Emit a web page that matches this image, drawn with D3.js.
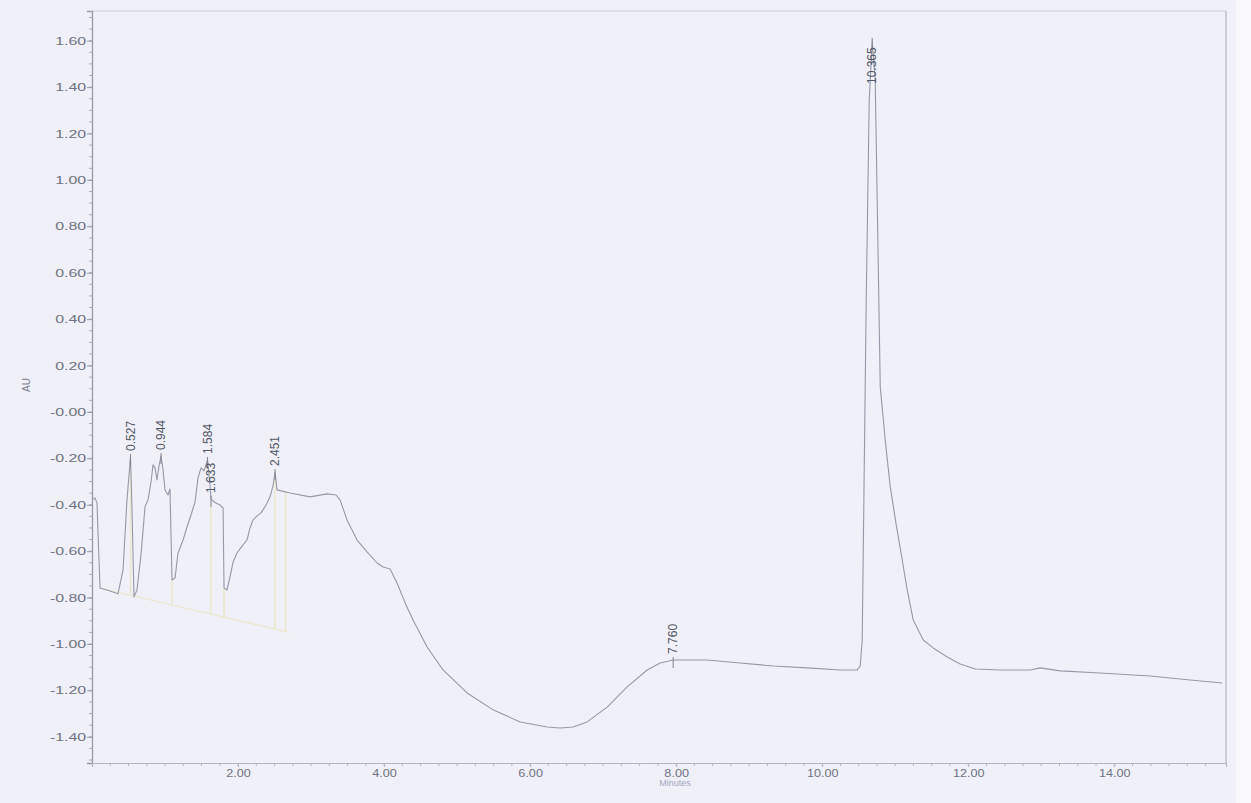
<!DOCTYPE html>
<html>
<head>
<meta charset="utf-8">
<script src="https://cdn.jsdelivr.net/npm/d3@7"></script>
<style>
  body { margin: 0; background: #eff0f8; }
  svg { display: block; }
</style>
</head>
<body>
<svg id="chart" width="1251" height="803"></svg>
<script>
// chromatogram trace (minutes, AU)
const times = [0.00, 0.041, 0.068, 0.096, 0.11, 0.247, 0.356, 0.425, 0.479, 0.527, 0.548, 0.575,
  0.616, 0.671, 0.726, 0.767, 0.808, 0.836, 0.863, 0.890, 0.918, 0.945, 0.973, 1.0, 1.041, 1.068,
  1.096, 1.137, 1.178, 1.247, 1.301, 1.356, 1.411, 1.452, 1.493, 1.534, 1.582, 1.610, 1.630, 1.671,
  1.753, 1.795, 1.808, 1.849, 1.890, 1.932, 1.986, 2.055, 2.123, 2.164, 2.205, 2.260, 2.315, 2.384,
  2.438, 2.479, 2.507, 2.534, 2.712, 2.986, 3.219, 3.342, 3.397, 3.493, 3.630, 3.767, 3.904, 3.986,
  4.082, 4.178, 4.288, 4.397, 4.589, 4.808, 5.137, 5.493, 5.863, 6.233, 6.411, 6.589, 6.781, 7.055,
  7.329, 7.603, 7.781, 7.959, 8.425, 8.877, 9.329, 9.795, 10.247, 10.479, 10.521, 10.548, 10.562,
  10.603, 10.644, 10.685, 10.726, 10.753, 10.795, 10.863, 10.932, 11.014, 11.096, 11.164, 11.247,
  11.384, 11.521, 11.712, 11.890, 12.096, 12.438, 12.849, 12.986, 13.260, 13.808, 14.493, 15.041, 15.479];
const absorbance = [-0.379, -0.371, -0.392, -0.638, -0.759, -0.772, -0.784, -0.681, -0.379, -0.194, -0.422, -0.797,
  -0.767, -0.616, -0.409, -0.379, -0.302, -0.228, -0.241, -0.293, -0.233, -0.190, -0.250, -0.336, -0.358, -0.332,
  -0.724, -0.716, -0.608, -0.552, -0.496, -0.444, -0.388, -0.284, -0.241, -0.254, -0.207, -0.293, -0.375, -0.388,
  -0.401, -0.414, -0.759, -0.767, -0.711, -0.647, -0.608, -0.578, -0.552, -0.500, -0.466, -0.448, -0.435, -0.401,
  -0.366, -0.319, -0.259, -0.336, -0.349, -0.366, -0.353, -0.358, -0.379, -0.466, -0.552, -0.603, -0.651, -0.668,
  -0.677, -0.737, -0.823, -0.897, -1.013, -1.112, -1.211, -1.284, -1.336, -1.358, -1.362, -1.358, -1.336, -1.272,
  -1.185, -1.112, -1.082, -1.069, -1.069, -1.082, -1.095, -1.103, -1.112, -1.112, -1.095, -0.983, -0.608,
  0.483, 1.345, 1.599, 1.431, 0.914, 0.108, -0.121, -0.323, -0.487, -0.638, -0.767, -0.897,
  -0.983, -1.017, -1.056, -1.086, -1.108, -1.112, -1.112, -1.103, -1.116, -1.125, -1.138, -1.155, -1.168];

// labelled peaks (retention time text, apex position on the plot)
const peakNames = ["0.527", "0.944", "1.584", "1.633", "2.451", "7.760", "10.365"];
const peakTimes = [0.527, 0.945, 1.582, 1.630, 2.507, 7.959, 10.685];
const peakHeights = [-0.194, -0.190, -0.207, -0.375, -0.259, -1.069, 1.599];

// integration baseline and drop lines (pale yellow)
const baselineTimes = [0.11, 2.70];
const baselineValues = [-0.76, -0.95];
const dropTimes = [0.356, 0.527, 1.096, 1.630, 1.808, 2.507, 2.650];

const yTickValues = [1.6, 1.4, 1.2, 1.0, 0.8, 0.6, 0.4, 0.2, 0, -0.2, -0.4, -0.6, -0.8, -1.0, -1.2, -1.4];
const yTickLabels = ["1.60", "1.40", "1.20", "1.00", "0.80", "0.60", "0.40", "0.20", "-0.00",
  "-0.20", "-0.40", "-0.60", "-0.80", "-1.00", "-1.20", "-1.40"];
const xTickValues = [2, 4, 6, 8, 10, 12, 14];
const xTickLabels = ["2.00", "4.00", "6.00", "8.00", "10.00", "12.00", "14.00"];

const svg = d3.select("#chart");
const font = "'Liberation Sans', Arial, sans-serif";

const x = d3.scaleLinear().domain([0, 15.53]).range([92, 1226]);
const y = d3.scaleLinear().domain([-1.513, 1.728]).range([763, 11]);

// paper edge on the right
svg.append("rect").attr("x", 1236).attr("y", 0).attr("width", 15).attr("height", 803).attr("fill", "#f9f9fc");

// frame
svg.append("line").attr("x1", 92).attr("x2", 1226).attr("y1", 11).attr("y2", 11)
  .attr("stroke", "#cdcfd9").attr("stroke-width", 1);
svg.append("line").attr("x1", 1226).attr("x2", 1226).attr("y1", 11).attr("y2", 763)
  .attr("stroke", "#b3b5c0").attr("stroke-width", 1.2);

// minor ticks
const yMinor = d3.range(-1.5, 1.73, 0.05);
svg.append("g").selectAll("line").data(yMinor).join("line")
  .attr("x1", 89).attr("x2", 92)
  .attr("y1", d => y(d)).attr("y2", d => y(d))
  .attr("stroke", "#a9abb6");
const xMinor = d3.range(0.25, 15.5, 0.25);
svg.append("g").selectAll("line").data(xMinor).join("line")
  .attr("x1", d => x(d)).attr("x2", d => x(d))
  .attr("y1", 763).attr("y2", 766)
  .attr("stroke", "#b3b5c0");

// y axis
const yAxis = d3.axisLeft(y)
  .tickValues(yTickValues)
  .tickFormat((d, i) => yTickLabels[i])
  .tickSize(5);
const gy = svg.append("g").attr("transform", "translate(92,0)").call(yAxis);
gy.select(".domain").attr("stroke", "#999ca8").attr("stroke-width", 1.3);
gy.selectAll(".tick line").attr("stroke", "#999ca8");
gy.selectAll(".tick text")
  .attr("x", -4)
  .attr("transform", "scale(1.45,1)")
  .attr("fill", "#707383")
  .style("font-family", font)
  .style("font-size", "11px");

// x axis
const xAxis = d3.axisBottom(x)
  .tickValues(xTickValues)
  .tickFormat((d, i) => xTickLabels[i])
  .tickSize(4)
  .tickPadding(3);
const gx = svg.append("g").attr("transform", "translate(0,763)").call(xAxis);
gx.select(".domain").attr("stroke", "#b3b5c0").attr("stroke-width", 1.1);
gx.selectAll(".tick line").attr("stroke", "#b3b5c0");
gx.selectAll(".tick text")
  .attr("x", 0)
  .attr("y", 6)
  .attr("transform", "scale(1.15,1)")
  .attr("fill", "#707383")
  .style("font-family", font)
  .style("font-size", "11px");

// axis titles
svg.append("text")
  .attr("transform", "translate(30,385) rotate(-90)")
  .attr("text-anchor", "middle")
  .attr("fill", "#7d8090")
  .style("font-family", font)
  .style("font-size", "10px")
  .text("AU");
svg.append("text")
  .attr("x", 675).attr("y", 786)
  .attr("text-anchor", "middle")
  .attr("fill", "#a3a8c0")
  .style("font-family", font)
  .style("font-size", "9px")
  .text("Minutes");

// baseline + drop lines
const baseAt = t => baselineValues[0] + (baselineValues[1] - baselineValues[0]) *
  (t - baselineTimes[0]) / (baselineTimes[1] - baselineTimes[0]);
const traceAt = t => {
  const i = d3.bisectLeft(times, t);
  if (i <= 0) return absorbance[0];
  const t0 = times[i - 1], t1 = times[i];
  return absorbance[i - 1] + (absorbance[i] - absorbance[i - 1]) * (t - t0) / (t1 - t0);
};
svg.append("line")
  .attr("x1", x(baselineTimes[0])).attr("y1", y(baselineValues[0]))
  .attr("x2", x(baselineTimes[1])).attr("y2", y(baselineValues[1]))
  .attr("stroke", "#ede8cc").attr("stroke-width", 1.2);
svg.append("g").selectAll("line").data(dropTimes).join("line")
  .attr("x1", d => x(d)).attr("x2", d => x(d))
  .attr("y1", d => y(traceAt(d))).attr("y2", d => y(baseAt(d)))
  .attr("stroke", "#ede8cc").attr("stroke-width", 1.5);

// trace
const points = times.map((t, i) => [t, absorbance[i]]);
const line = d3.line().x(d => x(d[0])).y(d => y(d[1]));
svg.append("path")
  .datum(points)
  .attr("d", line)
  .attr("fill", "none")
  .attr("stroke", "#9598a6")
  .attr("stroke-width", 1.1)
  .attr("stroke-linejoin", "round");

// peak markers and labels
const peaks = peakNames.map((name, i) => ({ name, t: peakTimes[i], v: peakHeights[i] }));
svg.append("g").selectAll("line").data(peaks).join("line")
  .attr("x1", d => x(d.t)).attr("x2", d => x(d.t))
  .attr("y1", d => y(d.v) - 3).attr("y2", d => y(d.v) + 8)
  .attr("stroke", "#80838f").attr("stroke-width", 1);
svg.append("g").selectAll("text").data(peaks).join("text")
  .attr("transform", d => `translate(${x(d.t)},${Math.max(y(d.v) - 6, 84)}) rotate(-90)`)
  .attr("dy", "0.35em")
  .attr("fill", "#555866")
  .style("font-family", "'Liberation Sans Narrow', 'Liberation Sans', Arial, sans-serif")
  .style("font-size", "12px")
  .text(d => d.name);
</script>
</body>
</html>
